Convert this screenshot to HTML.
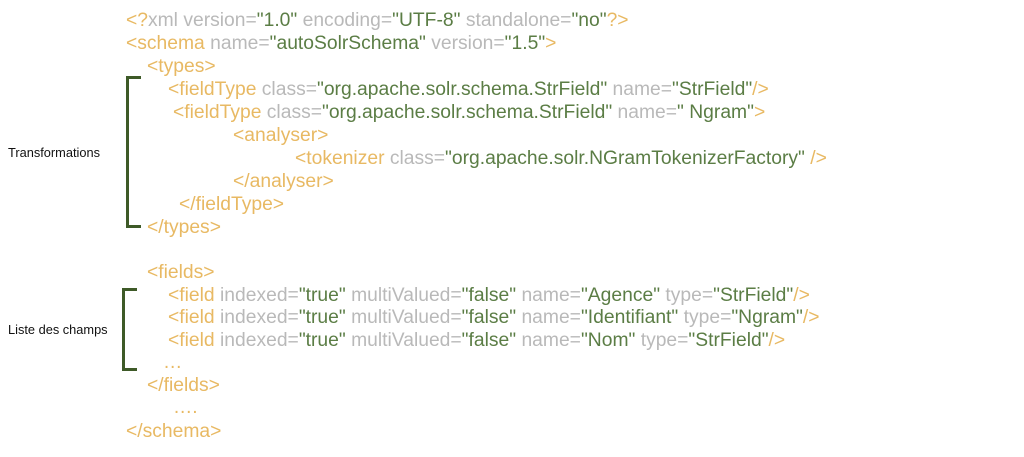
<!DOCTYPE html>
<html><head><meta charset="utf-8"><style>
body{margin:0;width:1024px;height:457px;background:#fff;position:relative;overflow:hidden;font-family:"Liberation Sans",Arial,sans-serif}
.l{position:absolute;font-size:19.3px;white-space:nowrap;line-height:20px;letter-spacing:0px;margin-top:2px}
.o{color:#e8b963}.g{color:#b9b9b9}.v{color:#5b7d45}
.lab{position:absolute;font-size:12.8px;color:#111;white-space:nowrap}
.br{position:absolute;border:3px solid #3e5a28;border-right:none;width:10px}
</style></head><body>
<div class="l" style="left:126px;top:9px"><span class="o">&lt;?</span><span class="g">xml version=</span><span class="v">"1.0"</span><span class="g"> encoding=</span><span class="v">"UTF-8"</span><span class="g"> standalone=</span><span class="v">"no"</span><span class="o">?&gt;</span></div>
<div class="l" style="left:126px;top:32px"><span class="o">&lt;schema</span><span class="g"> name=</span><span class="v">"autoSolrSchema"</span><span class="g"> version=</span><span class="v">"1.5"</span><span class="o">&gt;</span></div>
<div class="l o" style="left:147px;top:55px">&lt;types&gt;</div>
<div class="l" style="left:168px;top:78px"><span class="o">&lt;fieldType</span><span class="g"> class=</span><span class="v">"org.apache.solr.schema.StrField"</span><span class="g"> name=</span><span class="v">"StrField"</span><span class="o">/&gt;</span></div>
<div class="l" style="left:173px;top:101px"><span class="o">&lt;fieldType</span><span class="g"> class=</span><span class="v">"org.apache.solr.schema.StrField"</span><span class="g"> name=</span><span class="v">" Ngram"</span><span class="o">&gt;</span></div>
<div class="l o" style="left:233px;top:124px">&lt;analyser&gt;</div>
<div class="l" style="left:295px;top:147px"><span class="o">&lt;tokenizer</span><span class="g"> class=</span><span class="v">"org.apache.solr.NGramTokenizerFactory"</span><span class="o"> /&gt;</span></div>
<div class="l o" style="left:233px;top:170px">&lt;/analyser&gt;</div>
<div class="l o" style="left:179px;top:193px">&lt;/fieldType&gt;</div>
<div class="l o" style="left:147px;top:216px">&lt;/types&gt;</div>
<div class="l o" style="left:147px;top:261px">&lt;fields&gt;</div>
<div class="l" style="left:168px;top:284px"><span class="o">&lt;field</span><span class="g"> indexed=</span><span class="v">"true"</span><span class="g"> multiValued=</span><span class="v">"false"</span><span class="g"> name=</span><span class="v">"Agence"</span><span class="g"> type=</span><span class="v">"StrField"</span><span class="o">/&gt;</span></div>
<div class="l" style="left:168px;top:306px"><span class="o">&lt;field</span><span class="g"> indexed=</span><span class="v">"true"</span><span class="g"> multiValued=</span><span class="v">"false"</span><span class="g"> name=</span><span class="v">"Identifiant"</span><span class="g"> type=</span><span class="v">"Ngram"</span><span class="o">/&gt;</span></div>
<div class="l" style="left:168px;top:329px"><span class="o">&lt;field</span><span class="g"> indexed=</span><span class="v">"true"</span><span class="g"> multiValued=</span><span class="v">"false"</span><span class="g"> name=</span><span class="v">"Nom"</span><span class="g"> type=</span><span class="v">"StrField"</span><span class="o">/&gt;</span></div>
<div class="l o" style="left:163px;top:351px">…</div>
<div class="l o" style="left:147px;top:374px">&lt;/fields&gt;</div>
<div class="l o" style="left:173px;top:396px">….</div>
<div class="l o" style="left:126px;top:420px">&lt;/schema&gt;</div>
<div class="lab" style="left:8px;top:145px">Transformations</div>
<div class="lab" style="left:8px;top:322px">Liste des champs</div>
<div class="br" style="left:126px;top:76px;height:146px;width:12px"></div>
<div class="br" style="left:122px;top:288px;height:77px;width:12px"></div>
</body></html>
